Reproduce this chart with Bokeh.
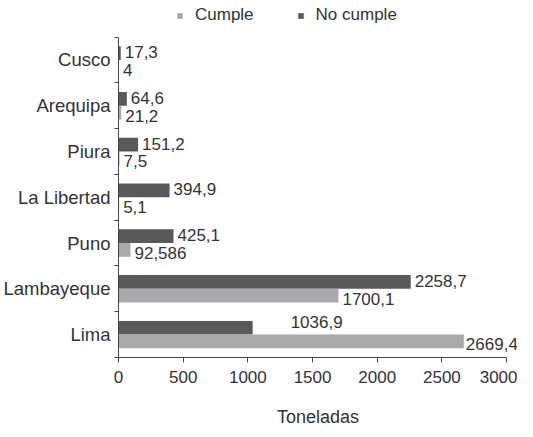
from bokeh.plotting import figure
from bokeh.models import (ColumnDataSource, Range1d, FixedTicker, Legend, LegendItem)
from bokeh.embed import file_html
from bokeh.resources import INLINE

# ---- data (bottom to top) ----
regions = ["Lima", "Lambayeque", "Puno", "La Libertad", "Piura", "Arequipa", "Cusco"]
no_cumple = [1036.9, 2258.7, 425.1, 394.9, 151.2, 64.6, 17.3]
cumple = [2669.4, 1700.1, 92.586, 5.1, 7.5, 21.2, 4]
no_cumple_labels = ["1036,9", "2258,7", "425,1", "394,9", "151,2", "64,6", "17,3"]
cumple_labels = ["2669,4", "1700,1", "92,586", "5,1", "7,5", "21,2", "4"]
x_ticks = [0, 500, 1000, 1500, 2000, 2500, 3000]
x_max = 3000

DARK = "#58595b"
LIGHT = "#a7a9ac"
TXT = "#333333"
AX = "#444444"
FONT = "Liberation Sans"

n = len(regions)
centers = [i + 0.5 for i in range(n)]
bar_h = 0.3

# layout (canvas px)
W, H = 517, 429
F_LEFT, F_BOTTOM = 114, 64
AXIS_PX = 392          # pixel length of 0..x_max
CAT_PX = 46.8          # pixel height of one category
TOP_GAP = 37.4         # px between canvas top and the top category boundary
frame_w = W - F_LEFT
frame_h = H - F_BOTTOM
x_end = x_max * frame_w / AXIS_PX
y_end = n + TOP_GAP / CAT_PX

src_no = ColumnDataSource(dict(
    y=[c + bar_h / 2 for c in centers], v=no_cumple, lab=no_cumple_labels,
    dx=[38 if i == 0 else 4 for i in range(n)],
    dy=[-6 if i == 0 else -1 for i in range(n)],
))
src_si = ColumnDataSource(dict(
    y=[c - bar_h / 2 for c in centers], v=cumple, lab=cumple_labels,
    dx=[2 if i == 0 else 4 for i in range(n)],
))

p = figure(width=W, height=H, output_backend="svg", toolbar_location=None,
           x_range=Range1d(0, x_end), y_range=Range1d(0, y_end),
           min_border_left=F_LEFT, min_border_right=0, min_border_top=0,
           min_border_bottom=F_BOTTOM)
p.outline_line_color = None
p.grid.grid_line_color = None
p.background_fill_color = "white"
p.border_fill_color = "white"

r_no = p.hbar(y="y", right="v", left=0, height=bar_h, source=src_no,
              fill_color=DARK, line_color=None)
r_si = p.hbar(y="y", right="v", left=0, height=bar_h, source=src_si,
              fill_color=LIGHT, line_color=None)

p.text(x="v", y="y", text="lab", source=src_no, x_offset="dx", y_offset="dy",
       text_baseline="middle", text_align="left", text_font_size="17px",
       text_color=TXT, text_font={"value": FONT})
p.text(x="v", y="y", text="lab", source=src_si, x_offset="dx", y_offset=3,
       text_baseline="middle", text_align="left", text_font_size="17px",
       text_color=TXT, text_font={"value": FONT})

# x axis
xa = p.xaxis[0]
xa.bounds = (0, x_max)
xa.ticker = FixedTicker(ticks=x_ticks)
xa.major_tick_out = 5
xa.major_tick_in = 0
xa.minor_tick_line_color = None
xa.axis_line_color = AX
xa.major_tick_line_color = AX
xa.major_label_text_font = FONT
xa.major_label_text_font_size = "17px"
xa.major_label_text_color = TXT
xa.major_label_standoff = 8
xa.axis_label = "Toneladas"
xa.axis_label_text_font = FONT
xa.axis_label_text_font_size = "18px"
xa.axis_label_text_font_style = "normal"
xa.axis_label_text_color = TXT
xa.axis_label_text_line_height = 0.6
xa.axis_label_standoff = 21

# y axis
ya = p.yaxis[0]
ya.bounds = (0, n)
ya.ticker = FixedTicker(ticks=centers, minor_ticks=list(range(n + 1)))
ya.major_label_overrides = {c: r for c, r in zip(centers, regions)}
ya.major_tick_line_color = None
ya.major_tick_out = 0
ya.major_tick_in = 0
ya.minor_tick_out = 4
ya.minor_tick_in = 0
ya.minor_tick_line_color = AX
ya.axis_line_color = AX
ya.major_label_text_font = FONT
ya.major_label_text_font_size = "18.5px"
ya.major_label_text_color = TXT
ya.major_label_standoff = 4

legend = Legend(items=[LegendItem(label="Cumple", renderers=[r_si]),
                       LegendItem(label="No cumple", renderers=[r_no])],
                orientation="horizontal", location=(58, frame_h - 33),
                glyph_width=7, glyph_height=7, label_standoff=12, spacing=43,
                padding=0, margin=0, border_line_color=None,
                background_fill_alpha=0, label_text_font=FONT,
                label_text_font_size="17px", label_text_color=TXT)
p.add_layout(legend, "center")

open("out.html", "w").write(file_html(p, INLINE))
